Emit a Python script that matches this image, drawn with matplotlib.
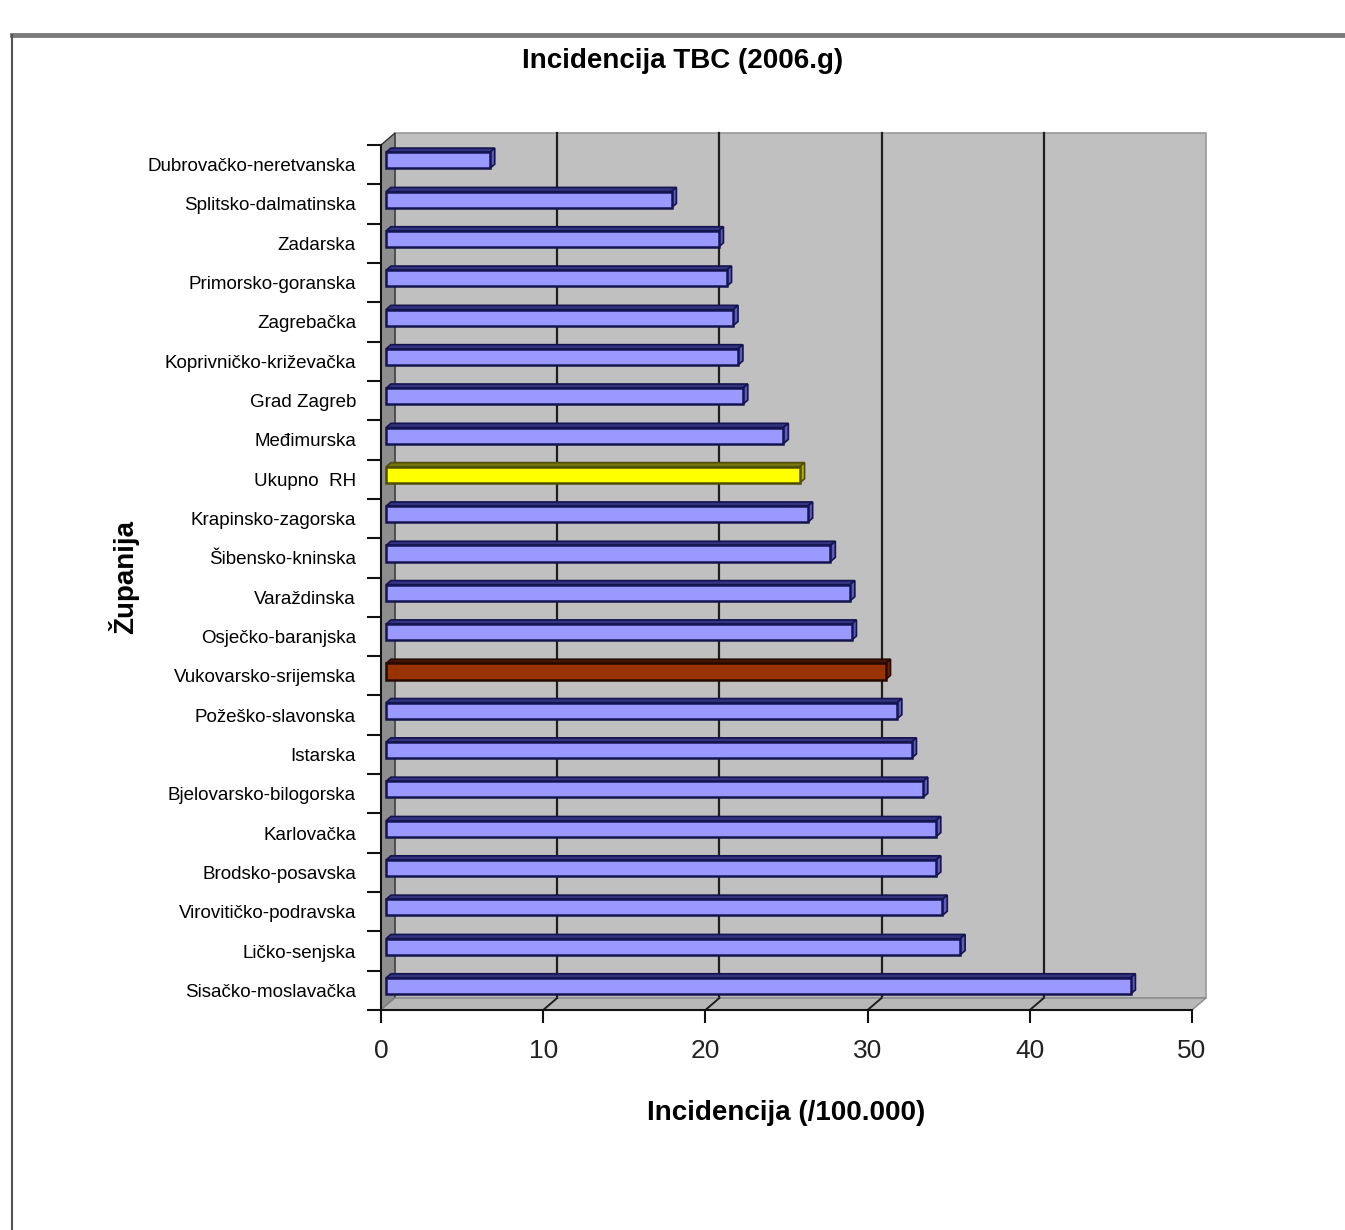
import matplotlib
matplotlib.use("Agg")
import matplotlib.pyplot as plt
from matplotlib.patches import Polygon
from matplotlib.lines import Line2D

plt.rcParams['font.family'] = ['Liberation Sans', 'DejaVu Sans']

zupanije = ["Dubrovačko-neretvanska", "Splitsko-dalmatinska", "Zadarska",
            "Primorsko-goranska", "Zagrebačka", "Koprivničko-križevačka",
            "Grad Zagreb", "Međimurska", "Ukupno  RH", "Krapinsko-zagorska",
            "Šibensko-kninska", "Varaždinska", "Osječko-baranjska",
            "Vukovarsko-srijemska", "Požeško-slavonska", "Istarska",
            "Bjelovarsko-bilogorska", "Karlovačka", "Brodsko-posavska",
            "Virovitičko-podravska", "Ličko-senjska", "Sisačko-moslavačka"]
incidencija = [6.4, 17.6, 20.5, 21.0, 21.4, 21.7, 22.0, 24.5, 25.5, 26.0,
               27.4, 28.6, 28.7, 30.8, 31.5, 32.4, 33.1, 33.9, 33.9, 34.3,
               35.4, 45.9]
x_ticks = [0, 10, 20, 30, 40, 50]

# front / top / side / edge shades for the 3d bars
blue = ("#9999ff", "#33337f", "#5c5cbd", "#141450")
yellow = ("#ffff00", "#76760e", "#b3b300", "#4d4d08")
brown = ("#993300", "#451600", "#6b2400", "#260a00")
istaknuto = {"Ukupno  RH": yellow, "Vukovarsko-srijemska": brown}

n = len(zupanije)
xmax = x_ticks[-1]
# depth of the 3d box in data units (x: value, y: category)
DX, DY = 0.863, -0.305
f0, f1 = 0.36, 0.71
h = 0.41

fig = plt.figure(figsize=(13.45, 12.3), dpi=100)
ax = fig.add_axes([381 / 1345, 220 / 1230, 811 / 1345, 865 / 1230])
ax.set_xlim(0, xmax)
ax.set_ylim(n, 0)
ax.set_facecolor("none")

# walls and floor
wall = "#c0c0c0"
ax.add_patch(Polygon([(DX, DY), (xmax + DX, DY), (xmax + DX, n + DY), (DX, n + DY)],
                     closed=True, facecolor=wall, edgecolor="#9a9a9a", lw=1.2,
                     clip_on=False, zorder=0))
ax.add_patch(Polygon([(0, 0), (DX, DY), (DX, n + DY), (0, n)], closed=True,
                     facecolor="#8e8e8e", edgecolor="#333333", lw=1.0,
                     clip_on=False, zorder=1))
ax.add_patch(Polygon([(0, n), (xmax, n), (xmax + DX, n + DY), (DX, n + DY)],
                     closed=True, facecolor="#b8b8b8", edgecolor="#8a8a8a", lw=1.0,
                     clip_on=False, zorder=1))
for v in x_ticks[1:-1]:
    ax.plot([v + DX, v + DX], [DY, n + DY], color="#1e1e1e", lw=1.6,
            clip_on=False, zorder=0.5)
    ax.plot([v, v + DX], [n, n + DY], color="#1e1e1e", lw=1.4,
            clip_on=False, zorder=1.5)

# bars
for i, (name, val) in enumerate(zip(zupanije, incidencija)):
    front, top, side, edge = istaknuto.get(name, blue)
    yc = i + 0.5 + f0 * DY
    y_top, y_bot = yc - h / 2, yc + h / 2
    x0 = f0 * DX
    ddx, ddy = (f1 - f0) * DX, (f1 - f0) * DY
    ax.add_patch(Polygon([(x0, y_top), (x0 + val, y_top),
                          (x0 + val + ddx, y_top + ddy), (x0 + ddx, y_top + ddy)],
                         closed=True, facecolor=top, edgecolor=edge, lw=1.2,
                         clip_on=False, zorder=3))
    ax.add_patch(Polygon([(x0 + val, y_top), (x0 + val, y_bot),
                          (x0 + val + ddx, y_bot + ddy), (x0 + val + ddx, y_top + ddy)],
                         closed=True, facecolor=side, edgecolor=edge, lw=1.2,
                         clip_on=False, zorder=3))
    ax.barh(yc, val, left=x0, height=h, color=front, edgecolor=edge,
            linewidth=1.8, zorder=4, clip_on=False)

# axes, ticks, labels
for s in ("top", "right"):
    ax.spines[s].set_visible(False)
for s in ("left", "bottom"):
    ax.spines[s].set_color("#111111")
    ax.spines[s].set_linewidth(1.5)
    ax.spines[s].set_zorder(5)

ax.set_xticks(x_ticks)
ax.set_xticklabels([str(t) for t in x_ticks])
ax.tick_params(axis="x", direction="out", length=9, width=1.5, pad=12,
               labelsize=19, colors="#111111")
ax.tick_params(axis="x", labelcolor="#222222")
ax.set_yticks([i + 0.5 for i in range(n)])
ax.set_yticklabels(zupanije)
ax.set_yticks(range(n + 1), minor=True)
ax.tick_params(axis="y", which="major", length=0, pad=18, labelsize=13.5)
ax.tick_params(axis="y", which="minor", direction="out", length=10, width=1.5,
               color="#111111")

ax.set_xlabel("Incidencija (/100.000)", fontsize=20, fontweight="bold")
ax.xaxis.set_label_coords(0.5, -0.104)
ax.set_ylabel("Županija", fontsize=20, fontweight="bold")
ax.yaxis.set_label_coords(-0.298, 0.5)

fig.text(683 / 1345, 1 - 61 / 1230, "Incidencija TBC (2006.g)", ha="center",
         va="center", fontsize=20, fontweight="bold")

# chart area border
fig.add_artist(Line2D([12 / 1345, 1.0], [1 - 35 / 1230] * 2, color="#7a7a7a",
                      lw=3.5, transform=fig.transFigure))
fig.add_artist(Line2D([12 / 1345] * 2, [0.0, 1 - 35 / 1230], color="#555555",
                      lw=1.5, transform=fig.transFigure))

fig.savefig("out.png", dpi=100, facecolor="white")
